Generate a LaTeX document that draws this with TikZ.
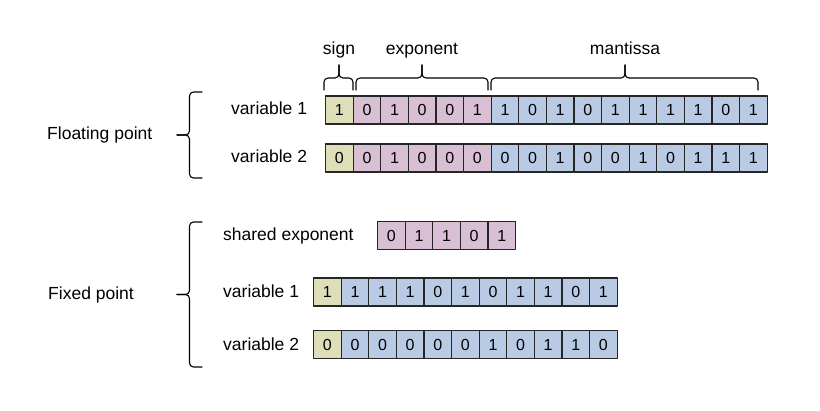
\documentclass[tikz,border=0pt]{standalone}
\usepackage{fontspec}
\setmainfont{Liberation Sans}
\definecolor{signbg}{RGB}{222,223,185}
\definecolor{expbg}{RGB}{216,191,211}
\definecolor{mantbg}{RGB}{184,202,228}
\tikzset{
  bit/.style={draw=black!85,line width=1.1pt,minimum width=27.6pt,minimum height=28pt,
    inner sep=0pt,anchor=west,font=\fontsize{16}{18}\selectfont},
  signbit/.style={bit,fill=signbg},
  expbit/.style={bit,fill=expbg},
  mantbit/.style={bit,fill=mantbg},
  lbl/.style={inner sep=0pt,anchor=base west},
  brace/.style={line width=1.1pt,rounded corners=4pt}
}
\begin{document}
\begin{tikzpicture}[x=1pt,y=-1pt,line cap=round,line join=round,font=\fontsize{17.5}{20}\selectfont]
		\useasboundingbox (0,0) rectangle (820,411);
		% floating point
		\foreach \bits [count=\r] in {{1,0,1,0,0,1,1,0,1,0,1,1,1,1,0,1},{0,0,1,0,0,0,0,0,1,0,0,1,0,1,1,1}} {
			\foreach \b [count=\i] in \bits {
				\ifnum\i=1 \def\kind{signbit}\else\ifnum\i<7 \def\kind{expbit}\else\def\kind{mantbit}\fi\fi
				\node[\kind] (fl\r-\i) at ({325+27.6*(\i-1)},{62+48*\r}) {\b};
			}
			\node[lbl] (flvar\r) at (231,{67+48*\r}) {variable \r};
		}
		\node[lbl] (floatlbl) at (47,140) {Floating point};
		% fields on top
		\node[inner sep=0pt,anchor=base] (signlbl) at (339,55) {sign};
		\node[inner sep=0pt,anchor=base] (explbl) at (422,55) {exponent};
		\node[inner sep=0pt,anchor=base] (mantlbl) at (625,55) {mantissa};
		\foreach \a/\m/\b in {324/339/353,356/422/488,491/625/758} {
			\draw[brace] (\a,90) -- (\a,78) -- (\m,78) -- (\m,65);
			\draw[brace] (\b,90) -- (\b,78) -- (\m,78) -- (\m,65);
		}
		% fixed point
		\foreach \b [count=\i] in {0,1,1,0,1}
			\node[expbit] (sh-\i) at ({377+27.6*(\i-1)},235.5) {\b};
		\node[lbl] (shlbl) at (223,241) {shared exponent};
		\foreach \bits [count=\r] in {{1,1,1,1,0,1,0,1,1,0,1},{0,0,0,0,0,0,1,0,1,1,0}} {
			\foreach \b [count=\i] in \bits {
				\ifnum\i=1 \def\kind{signbit}\else\def\kind{mantbit}\fi
				\node[\kind] (fx\r-\i) at ({313+27.6*(\i-1)},{239.5+52.5*\r}) {\b};
			}
			\node[lbl] (fxvar\r) at (223,{245.5+52.5*\r}) {variable \r};
		}
		\node[lbl] (fixlbl) at (48,300) {Fixed point};
		% left braces
		\foreach \t/\m/\u in {92/135/178,222/294.5/367} {
			\draw[brace] (202,\t) -- (189.5,\t) -- (189.5,\m) -- (177,\m);
			\draw[brace] (202,\u) -- (189.5,\u) -- (189.5,\m) -- (177,\m);
		}
\end{tikzpicture}
\end{document}
